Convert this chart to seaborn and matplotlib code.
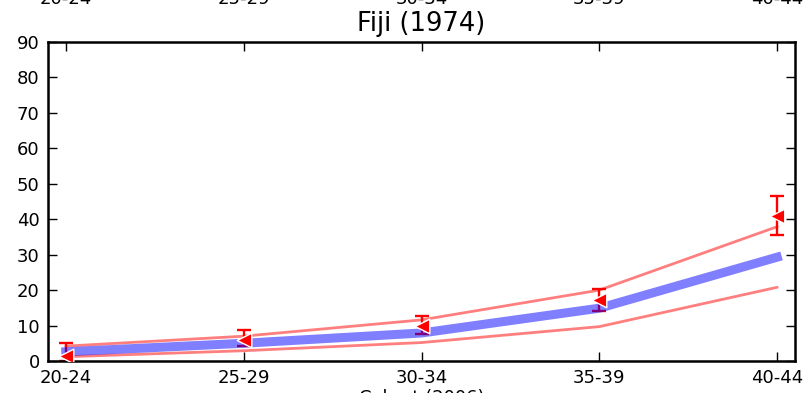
import matplotlib
matplotlib.use("Agg")
import matplotlib.pyplot as plt
import matplotlib.transforms as mtransforms
import seaborn as sns
import numpy as np
import pandas as pd

# date
cohorts = ["20-24", "25-29", "30-34", "35-39", "40-44"]
model_mid = [2.6, 5.0, 7.9, 14.9, 29.3]
model_upper = [4.2, 7.0, 11.6, 20.0, 37.9]
model_lower = [1.2, 2.9, 5.2, 9.7, 20.8]
observed = [1.5, 5.8, 9.9, 17.2, 41.0]
obs_err_low = [1.5, 1.6, 2.4, 3.0, 5.4]
obs_err_high = [3.7, 2.9, 2.9, 3.1, 5.6]

sns.set_style("ticks", {"xtick.direction": "in", "ytick.direction": "in",
                        "axes.edgecolor": "black", "text.color": "black",
                        "axes.labelcolor": "black", "xtick.color": "black",
                        "ytick.color": "black"})
plt.rcParams["font.family"] = ["DejaVu Sans"]

fig = plt.figure(figsize=(8.07, 3.93), dpi=100)
ax = fig.add_axes([48 / 807, 1 - 361 / 393, 747 / 807, 319 / 393])

pos = np.arange(len(cohorts))
df = pd.DataFrame({"pos": pos, "mid": model_mid, "upper": model_upper,
                   "lower": model_lower, "obs": observed})

# barele de eroare (sub linii)
ax.errorbar(pos, observed, yerr=[obs_err_low, obs_err_high], fmt="none",
            ecolor="red", elinewidth=1.7, capsize=5, capthick=1.7, zorder=2)

sns.lineplot(data=df, x="pos", y="upper", ax=ax, color="red", alpha=0.5,
             linewidth=2, zorder=3)
sns.lineplot(data=df, x="pos", y="lower", ax=ax, color="red", alpha=0.5,
             linewidth=2, zorder=3)
sns.lineplot(data=df, x="pos", y="mid", ax=ax, color="blue", alpha=0.5,
             linewidth=6.5, zorder=4, solid_capstyle="projecting")

# markerii observatiilor deasupra
sns.scatterplot(data=df, x="pos", y="obs", ax=ax, marker="<", color="red",
                s=110, edgecolor="white", linewidth=1, zorder=5)

ax.set_xlim(-0.1, 4.1)
ax.set_ylim(0, 90)
ax.set_xticks(pos)
ax.set_xticklabels(cohorts)
ax.set_yticks(np.arange(0, 91, 10))
ax.tick_params(axis="both", which="major", direction="in", length=6.5,
               width=1, labelsize=13, pad=6, top=True, right=True,
               colors="black")
for sp in ax.spines.values():
    sp.set_linewidth(1.8)
    sp.set_color("black")
    sp.set_visible(True)

ax.set_title("Fiji (1974)", fontsize=18.5, pad=8, color="black")
ax.set_xlabel("Cohort (2006)", fontsize=13, labelpad=1, color="black")
ax.set_ylabel("")

# etichetele panoului de deasupra (taiate)
trans = mtransforms.blended_transform_factory(ax.transData, fig.transFigure)
for p, lab in zip(pos, cohorts):
    fig.text(p, 1 - 4 / 393, lab, transform=trans, ha="center",
             va="baseline", fontsize=13, color="black")

fig.savefig("out.png", dpi=100)
plt.close(fig)
